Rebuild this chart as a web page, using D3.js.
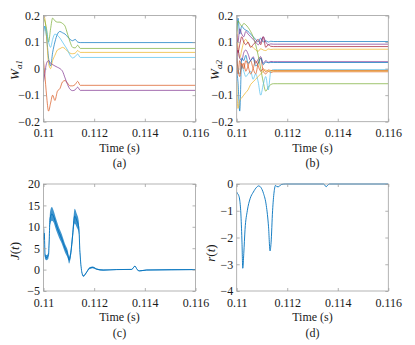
<!DOCTYPE html>
<html>
<head>
<meta charset="utf-8">
<script src="https://cdn.jsdelivr.net/npm/d3@7"></script>
<style>
  body { margin: 0; background: #fff; }
  svg { display: block; }
  text { font-family: "Liberation Serif", "Times New Roman", serif; fill: #1a1a1a; }
</style>
</head>
<body>
<svg id="chart" width="415" height="345"></svg>
<script>

// ---- data ----
var xTicks = [0.11, 0.112, 0.114, 0.116];
var xTickLabels = ["0.11", "0.112", "0.114", "0.116"];
var wTicks = [-0.2, -0.1, 0, 0.1, 0.2];
var wTickLabels = ["\u22120.2", "\u22120.1", "0", "0.1", "0.2"];
var jTicks = [-5, 0, 5, 10, 15, 20];
var jTickLabels = ["\u22125", "0", "5", "10", "15", "20"];
var rTicks = [-4, -3, -2, -1, 0];
var rTickLabels = ["\u22124", "\u22123", "\u22122", "\u22121", "0"];

var lineColors = ["#0072BD", "#D95319", "#EDB120", "#7E2F8E", "#77AC30", "#4DBEEE", "#A2142F"];

// shared time base of the weight transients
var timeW = [0.11, 0.11005, 0.11012, 0.1102, 0.11028, 0.11036, 0.11045, 0.11055, 0.11065, 0.11075,
             0.11085, 0.11095, 0.11105, 0.11115, 0.11125, 0.11135, 0.11145, 0.1116, 0.116];

// (a) W_a1
var wa1_1 = [0.14, 0.16, 0.12, 0.04, 0.01, 0.06, 0.10, 0.13, 0.14, 0.135, 0.13, 0.12, 0.11, 0.105, 0.11, 0.10, 0.098, 0.098, 0.098];
var wa1_2 = [0.03, -0.02, -0.10, -0.16, -0.13, -0.10, -0.12, -0.085, -0.075, -0.05, -0.045, -0.055, -0.065, -0.065, -0.06, -0.048, -0.063, -0.063, -0.063];
var wa1_3 = [0.20, 0.19, 0.12, 0.02, 0.00, 0.03, 0.05, 0.07, 0.075, 0.08, 0.075, 0.065, 0.058, 0.056, 0.058, 0.068, 0.061, 0.061, 0.061];
var wa1_4 = [-0.05, -0.02, 0.02, 0.03, 0.02, 0.015, 0.01, 0.005, 0.0, -0.01, -0.035, -0.06, -0.078, -0.083, -0.08, -0.07, -0.082, -0.082, -0.082];
var wa1_5 = [0.19, 0.18, 0.15, 0.10, 0.15, 0.19, 0.18, 0.175, 0.175, 0.17, 0.16, 0.13, 0.10, 0.08, 0.078, 0.088, 0.076, 0.076, 0.076];
var wa1_6 = [0.12, 0.16, 0.14, 0.10, 0.08, 0.11, 0.13, 0.125, 0.115, 0.10, 0.085, 0.07, 0.05, 0.04, 0.045, 0.055, 0.042, 0.042, 0.042];

// (b) W_a2
var wa2_1 = [0.12, 0.19, 0.13, 0.16, 0.15, 0.145, 0.14, 0.13, 0.12, 0.11, 0.10, 0.115, 0.10, 0.105, 0.10, 0.103, 0.102, 0.102, 0.102];
var wa2_2 = [0.06, -0.02, 0.03, 0.0, 0.02, -0.01, 0.01, 0.03, 0.0, -0.02, 0.02, 0.04, -0.01, -0.02, -0.01, -0.015, -0.012, -0.012, -0.012];
var wa2_3 = [0.16, 0.08, 0.04, 0.07, 0.10, 0.11, 0.095, 0.085, 0.08, 0.07, 0.065, 0.075, 0.07, 0.068, 0.074, 0.072, 0.073, 0.073, 0.073];
var wa2_4 = [0.02, 0.07, 0.04, 0.03, 0.06, 0.07, 0.055, 0.03, 0.045, 0.02, 0.035, 0.045, 0.02, 0.03, 0.024, 0.027, 0.026, 0.026, 0.026];
var wa2_5 = [0.14, 0.18, 0.17, 0.16, 0.17, 0.165, 0.155, 0.14, 0.12, 0.09, 0.05, 0.0, -0.05, -0.085, -0.07, -0.06, -0.057, -0.057, -0.057];
var wa2_6 = [0.05, 0.0, -0.02, 0.01, -0.01, -0.03, -0.02, -0.01, -0.04, -0.02, -0.05, -0.1, -0.06, -0.03, -0.08, -0.01, -0.004, -0.004, -0.004];
var wa2_7 = [0.10, 0.06, 0.09, 0.12, 0.10, 0.09, 0.10, 0.08, 0.09, 0.10, 0.11, 0.09, 0.12, 0.08, 0.09, 0.084, 0.083, 0.083, 0.083];
var wa2_8 = [-0.01, -0.05, -0.16, 0.04, 0.03, 0.05, 0.02, 0.03, 0.04, 0.01, 0.02, 0.04, 0.015, 0.025, 0.022, 0.023, 0.023, 0.023, 0.023];
var wa2_9 = [0.04, 0.0, -0.03, 0.02, 0.0, 0.03, 0.01, -0.02, 0.0, 0.03, 0.01, -0.01, 0.0, -0.012, -0.005, -0.007, -0.007, -0.007, -0.007];
var wa2_10 = [-0.05, -0.15, -0.12, -0.11, -0.10, -0.09, -0.08, -0.06, -0.05, -0.04, -0.03, -0.02, -0.01, -0.005, -0.01, -0.009, -0.009, -0.009, -0.009];
var wa2_11 = [0.13, 0.10, 0.15, 0.13, 0.12, 0.14, 0.13, 0.12, 0.11, 0.10, 0.09, 0.10, 0.12, 0.10, 0.09, 0.093, 0.092, 0.092, 0.092];

// (c) J(t): centre line and half width of the noisy band
var timeJ = [0.11, 0.11003, 0.110066, 0.11013, 0.1102, 0.11026, 0.11033, 0.11039, 0.1105, 0.11059,
             0.11072, 0.11085, 0.11096, 0.11101, 0.11108, 0.11115, 0.11123, 0.11131, 0.11139, 0.11144,
             0.11151, 0.11157, 0.11168, 0.11181, 0.11194, 0.1121, 0.11236, 0.11289, 0.11348, 0.11361,
             0.1137, 0.11378, 0.11407, 0.116];
var valuesJ = [7, 8.5, 3, 2.8, 3.5, 12, 13, 12.5, 10.5, 9,
               7.2, 5, 3.5, 2.2, 4, 8, 12.5, 11.5, 10, 4,
               -0.5, -1.5, -0.8, 0.3, 0.5, 0.1, -0.1, 0, 0.05, 0.8,
               0, -0.3, -0.1, 0];
var spreadJ = [1.2, 1.2, 0.6, 0.6, 0.8, 1.6, 1.6, 1.4, 1.3, 1.2,
               1.1, 1.0, 0.9, 0.8, 1.0, 1.4, 1.7, 1.6, 1.4, 0.6,
               0.2, 0.15, 0.15, 0.2, 0.2, 0.15, 0.15, 0.1, 0.1, 0.1,
               0.1, 0.1, 0.1, 0.08];

// (d) r(t)
var timeR = [0.11, 0.110026, 0.110066, 0.11012, 0.11017, 0.11021, 0.11024, 0.11028, 0.11033, 0.11042,
             0.11053, 0.11066, 0.11079, 0.11087, 0.11095, 0.11106, 0.11117, 0.11126, 0.11132, 0.11136,
             0.11142, 0.11148, 0.11154, 0.11159, 0.11166, 0.11176, 0.11192, 0.11344, 0.11354, 0.1136,
             0.11367, 0.116];
var valuesR = [-0.3, -0.35, -0.4, -0.6, -1.2, -2.2, -3.15, -2.6, -1.7, -1.0,
               -0.55, -0.3, -0.12, -0.07, -0.12, -0.35, -0.8, -1.6, -2.5, -2.2,
               -1.0, -0.3, -0.05, -0.1, -0.1, -0.02, 0, 0, -0.1, -0.05,
               0, 0];

var svg = d3.select("#chart");
var clipCount = 0;

function zip(xs, ys) {
  return xs.map(function(d, i) { return [d, ys[i]]; });
}

function drawPanel(opt) {
  var g = svg.append("g");
  var x = d3.scaleLinear().domain([0.11, 0.116]).range([opt.left, opt.right]);
  var y = d3.scaleLinear().domain(opt.yDomain).range([opt.bottom, opt.top]);

  var clipId = "clip" + (clipCount++);
  svg.append("clipPath").attr("id", clipId)
    .append("rect")
    .attr("x", opt.left).attr("y", opt.top - 1)
    .attr("width", opt.right - opt.left).attr("height", opt.bottom - opt.top + 2);

  var plot = g.append("g").attr("clip-path", "url(#" + clipId + ")");
  var line = d3.line()
    .x(function(d) { return x(d[0]); })
    .y(function(d) { return y(d[1]); })
    .curve(d3.curveMonotoneX);

  if (opt.band) {
    var area = d3.area()
      .x(function(d) { return x(d[0]); })
      .y0(function(d) { return y(d[1] - d[2]); })
      .y1(function(d) { return y(d[1] + d[2]); })
      .curve(d3.curveMonotoneX);
    plot.append("path")
      .datum(opt.band)
      .attr("d", area)
      .attr("fill", lineColors[0])
      .attr("opacity", 0.75);
  }

  opt.series.forEach(function(s, i) {
    plot.append("path")
      .datum(zip(s.t, s.v))
      .attr("d", line)
      .attr("fill", "none")
      .attr("stroke", lineColors[i % lineColors.length])
      .attr("stroke-width", opt.width || 0.7);
  });

  // axes, MATLAB style: ticks inside, on all four sides
  var bottom = g.append("g").attr("transform", "translate(0," + opt.bottom + ")")
    .call(d3.axisBottom(x).tickValues(xTicks).tickSize(-3).tickPadding(7)
      .tickFormat(function(d, i) { return xTickLabels[i]; }));
  var left = g.append("g").attr("transform", "translate(" + opt.left + ",0)")
    .call(d3.axisLeft(y).tickValues(opt.yTicks).tickSize(-3).tickPadding(3.5)
      .tickFormat(function(d, i) { return opt.yTickLabels[i]; }));
  var top = g.append("g").attr("transform", "translate(0," + opt.top + ")")
    .call(d3.axisTop(x).tickValues(xTicks).tickSize(-3).tickFormat(""));
  var right = g.append("g").attr("transform", "translate(" + opt.right + ",0)")
    .call(d3.axisRight(y).tickValues(opt.yTicks).tickSize(-3).tickFormat(""));

  [bottom, left, top, right].forEach(function(a) {
    a.select(".domain").remove();
    a.selectAll("line").attr("stroke", "#a0a0a0").attr("stroke-width", 0.8);
    a.selectAll("text")
      .style("font-family", '"Liberation Serif", "Times New Roman", serif')
      .style("font-size", "12px")
      .attr("fill", "#1a1a1a");
  });

  g.append("rect")
    .attr("x", opt.left).attr("y", opt.top)
    .attr("width", opt.right - opt.left).attr("height", opt.bottom - opt.top)
    .attr("fill", "none")
    .attr("stroke", "#a0a0a0")
    .attr("stroke-width", 0.8);

  var cx = (opt.left + opt.right) / 2;
  g.append("text").attr("x", cx).attr("y", opt.bottom + 30)
    .attr("text-anchor", "middle").style("font-size", "12px").text("Time (s)");
  g.append("text").attr("x", cx).attr("y", opt.bottom + 45.5)
    .attr("text-anchor", "middle").style("font-size", "12px").text(opt.caption);

  // rotated y label built from italic / subscript parts
  var yl = g.append("text")
    .attr("transform", "translate(" + opt.labelX + "," + opt.labelY + ") rotate(-90)")
    .attr("text-anchor", "middle")
    .style("font-size", "13px");
  opt.label.forEach(function(p) {
    var ts = yl.append("tspan").text(p.text);
    if (p.italic) ts.style("font-style", "italic");
    if (p.sub) ts.style("font-size", "9px").attr("dy", 3);
  });
}

drawPanel({
  left: 43.5, right: 195.5, top: 15.5, bottom: 121.7,
  yDomain: [-0.2, 0.2], yTicks: wTicks, yTickLabels: wTickLabels,
  series: [wa1_1, wa1_2, wa1_3, wa1_4, wa1_5, wa1_6].map(function(v) { return {t: timeW, v: v}; }),
  caption: "(a)", labelX: 19, labelY: 70,
  label: [{text: "W", italic: true}, {text: "a1", italic: true, sub: true}]
});

drawPanel({
  left: 236.7, right: 388.3, top: 15.5, bottom: 121.7,
  yDomain: [-0.2, 0.2], yTicks: wTicks, yTickLabels: wTickLabels,
  series: [wa2_1, wa2_2, wa2_3, wa2_4, wa2_5, wa2_6, wa2_7, wa2_8, wa2_9, wa2_10, wa2_11]
    .map(function(v) { return {t: timeW, v: v}; }),
  caption: "(b)", labelX: 219, labelY: 70,
  label: [{text: "W", italic: true}, {text: "a2", italic: true, sub: true}]
});

drawPanel({
  left: 43.5, right: 195.5, top: 184, bottom: 291,
  yDomain: [-5, 20], yTicks: jTicks, yTickLabels: jTickLabels,
  series: [{t: timeJ, v: valuesJ}], width: 0.9,
  band: timeJ.map(function(t, i) { return [t, valuesJ[i], spreadJ[i]]; }),
  caption: "(c)", labelX: 19, labelY: 251,
  label: [{text: "J", italic: true}, {text: "("}, {text: "t", italic: true}, {text: ")"}]
});

drawPanel({
  left: 236.7, right: 388.3, top: 184, bottom: 291,
  yDomain: [-4, 0], yTicks: rTicks, yTickLabels: rTickLabels,
  series: [{t: timeR, v: valuesR}], width: 0.9,
  caption: "(d)", labelX: 215, labelY: 253,
  label: [{text: "r", italic: true}, {text: "("}, {text: "t", italic: true}, {text: ")"}]
});

</script>
</body>
</html>
